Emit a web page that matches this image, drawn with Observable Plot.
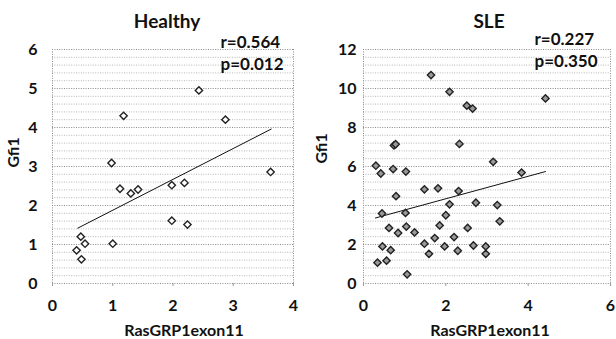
<!DOCTYPE html>
<html><head><meta charset="utf-8">
<script src="https://cdn.jsdelivr.net/npm/d3@7"></script>
<script src="https://cdn.jsdelivr.net/npm/@observablehq/plot@0.6"></script>
<style>
body{margin:0;background:#fff}
#wrap{display:flex;width:616px;height:339px;overflow:hidden}
#wrap svg{flex:none}
</style>
</head><body><div id="wrap"></div>
<script>
// Healthy panel data
const healthyX = [2.43, 2.87, 1.18, 0.98, 3.62, 1.12, 1.30, 1.42, 1.98, 2.19, 1.98, 2.24, 0.47, 0.54, 1.00, 0.40, 0.48];
const healthyY = [4.95, 4.20, 4.30, 3.09, 2.86, 2.43, 2.31, 2.41, 2.52, 2.58, 1.61, 1.51, 1.20, 1.02, 1.02, 0.85, 0.62];
const healthyTrendX = [0.42, 3.63];
const healthyTrendY = [1.42, 3.96];
const healthyXTicks = [0, 1, 2, 3, 4];
const healthyYTicks = [0, 1, 2, 3, 4, 5, 6];

// SLE panel data
const sleX = [1.64, 2.09, 4.42, 2.51, 2.65, 0.74, 0.78, 2.33, 3.15, 0.30, 0.42, 0.72, 1.03, 3.84, 1.48, 1.81, 2.31, 0.79, 2.73, 2.09, 3.25, 0.45, 1.02, 2.00, 3.31, 0.62, 1.04, 1.85, 2.53, 0.84, 1.24, 1.73, 2.20, 1.48, 0.46, 1.97, 2.67, 2.97, 0.66, 2.29, 1.59, 2.97, 0.34, 0.56, 1.06];
const sleY = [10.69, 9.83, 9.49, 9.12, 8.97, 7.08, 7.14, 7.16, 6.24, 6.04, 5.64, 5.87, 5.74, 5.69, 4.83, 4.88, 4.74, 4.48, 4.14, 4.06, 4.02, 3.59, 3.62, 3.50, 3.19, 2.85, 2.92, 2.98, 2.85, 2.59, 2.62, 2.33, 2.38, 2.04, 1.90, 1.90, 1.95, 1.90, 1.71, 1.68, 1.52, 1.52, 1.07, 1.17, 0.47];
const sleTrendX = [0.29, 4.42];
const sleTrendY = [3.36, 5.74];
const sleXTicks = [0, 2, 4, 6];
const sleYTicks = [0, 2, 4, 6, 8, 10, 12];

const titles = ["Healthy", "SLE"];
const rTexts = ["r=0.564", "r=0.227"];
const pTexts = ["p=0.012", "p=0.350"];
const xLabel = "RasGRP1exon11";
const yLabel = "Gfi1";

const FONT = "Lato, 'Open Sans', sans-serif";

function panel(o) {
  const pts = o.xs.map((x, i) => ({x, y: o.ys[i]}));
  const trend = o.tx.map((x, i) => ({x, y: o.ty[i]}));
  const xMax = o.xTicks[o.xTicks.length - 1];
  const yMax = o.yTicks[o.yTicks.length - 1];
  const minor = d3.range(o.minorStep, yMax - 1e-9, o.minorStep).filter(v => !o.yTicks.some(t => Math.abs(t - v) < 1e-9));
  const dotted = {stroke: "#8a8a8a", strokeDasharray: "1,1.4", strokeWidth: 1};
  const fmt = d => String(d);
  return Plot.plot({
    width: 308, height: 339,
    marginLeft: o.ml, marginRight: o.mr, marginTop: 49, marginBottom: 56,
    style: {fontFamily: FONT, background: "white", color: "#111"},
    x: {domain: [0, xMax]},
    y: {domain: [0, yMax]},
    marks: [
      Plot.ruleY(minor, {stroke: "#b5b5b5", strokeDasharray: "1,1.4", strokeWidth: 1}),
      Plot.ruleY(o.yTicks, dotted),
      Plot.ruleX([0, xMax], dotted),
      Plot.axisX({ticks: o.xTicks, tickFormat: fmt, tickSize: 3, stroke: "#999", tickPadding: 13, fontSize: 16, fontWeight: "bold", label: null}),
      Plot.axisY({ticks: o.yTicks, tickFormat: fmt, tickSize: 0, tickPadding: o.yPad, fontSize: 16, fontWeight: "bold", label: null}),
      Plot.line(trend, {x: "x", y: "y", stroke: "#111", strokeWidth: 1}),
      Plot.dot(pts, {x: "x", y: "y", symbol: "diamond2", r: 3.3, stroke: "#222", strokeWidth: 1.4, fill: o.fill}),
      Plot.text([o.title], {frameAnchor: "top", dx: o.titleDx, dy: -28, fontSize: 19, fontWeight: "bold", lineAnchor: "middle"}),
      Plot.text([o.r], {frameAnchor: "top-left", dx: o.rDx, dy: o.rDy, textAnchor: "start", fontSize: 17, fontWeight: "bold", lineAnchor: "middle"}),
      Plot.text([o.p], {frameAnchor: "top-left", dx: o.rDx, dy: o.pDy, textAnchor: "start", fontSize: 17, fontWeight: "bold", lineAnchor: "middle"}),
      Plot.text([xLabel], {frameAnchor: "bottom", dx: o.xLabDx, dy: 47, fontSize: 16, fontWeight: "bold", lineAnchor: "middle"}),
      Plot.text([yLabel], {frameAnchor: "left", dx: o.yLabDx, dy: o.yLabDy, rotate: -90, fontSize: 16, fontWeight: "bold", lineAnchor: "middle"})
    ]
  });
}

const wrap = document.getElementById("wrap");
wrap.append(panel({
  xs: healthyX, ys: healthyY, tx: healthyTrendX, ty: healthyTrendY,
  xTicks: healthyXTicks, yTicks: healthyYTicks, minorStep: 0.2,
  ml: 52, mr: 15, yPad: 15, fill: "white",
  title: titles[0], titleDx: -6, r: rTexts[0], p: pTexts[0], rDx: 168, rDy: -7, pDy: 15,
  xLabDx: 11, yLabDx: -39, yLabDy: 1
}));
wrap.append(panel({
  xs: sleX, ys: sleY, tx: sleTrendX, ty: sleTrendY,
  xTicks: sleXTicks, yTicks: sleYTicks, minorStep: 0.4,
  ml: 55, mr: 6, yPad: 7, fill: "#9a9a9a",
  title: titles[1], titleDx: 2, r: rTexts[1], p: pTexts[1], rDx: 171, rDy: -10, pDy: 12,
  xLabDx: 3, yLabDx: -42, yLabDy: -3
}));
</script>
</body></html>
